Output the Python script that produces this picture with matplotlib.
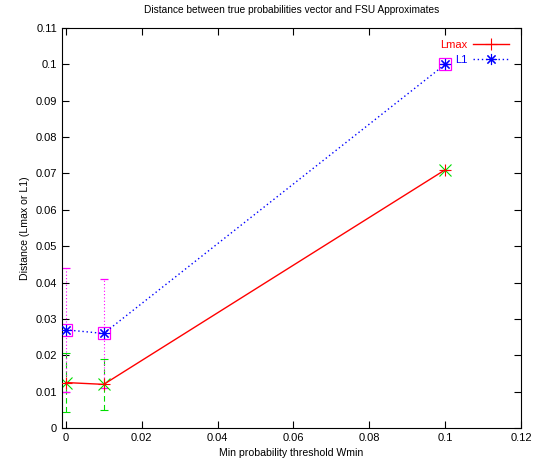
import matplotlib
matplotlib.use('Agg')
import matplotlib.pyplot as plt

plt.rcParams['font.family'] = ['Liberation Sans', 'DejaVu Sans']

# Datos
wmin = [0.0, 0.01, 0.1]
lmax = [0.0125, 0.012, 0.071]
l1 = [0.027, 0.026, 0.1]
lmax_err = [0.008, 0.007, 0.0]
l1_err = [0.017, 0.015, 0.0]

x_ticks = [0, 0.02, 0.04, 0.06, 0.08, 0.1, 0.12]
x_tick_labels = ['0', '0.02', '0.04', '0.06', '0.08', '0.1', '0.12']
y_ticks = [0, 0.01, 0.02, 0.03, 0.04, 0.05, 0.06, 0.07, 0.08, 0.09, 0.1, 0.11]
y_tick_labels = ['0', '0.01', '0.02', '0.03', '0.04', '0.05', '0.06', '0.07', '0.08', '0.09', '0.1', '0.11']

fig = plt.figure(figsize=(5.33, 4.71), dpi=100)
ax = fig.add_axes([62 / 533, 1 - 428 / 471, (521 - 62) / 533, (428 - 28) / 471])

# Barras de error (estilo gnuplot)
eb1 = ax.errorbar(wmin, lmax, yerr=lmax_err, fmt='x', color='#00dd00', ecolor='#00dd00',
                  mew=0.8, elinewidth=0.8, capsize=3, capthick=0.8, markersize=8, zorder=2)
eb1[2][0].set_linestyle((0, (5, 3)))
eb2 = ax.errorbar(wmin, l1, yerr=l1_err, fmt='s', color='#ff00ff', ecolor='#ff00ff',
                  mfc='none', mew=0.9, elinewidth=0.8, capsize=3, capthick=0.8,
                  markersize=8, zorder=2)
eb2[2][0].set_linestyle((0, (1, 2)))

# Curvas principales
ax.plot(wmin, lmax, color='red', lw=1.0, marker='+', markersize=8, mew=0.8,
        label='Lmax', zorder=3)
ax.plot(wmin, l1, color='blue', lw=1.0, ls=(0, (1, 2)), marker=(8, 2, 0), markersize=8,
        mew=0.8, label='L1', zorder=3)

ax.set_xlim(-0.001, 0.12)
ax.set_ylim(0, 0.11)
ax.set_xticks(x_ticks)
ax.set_xticklabels(x_tick_labels)
ax.set_yticks(y_ticks)
ax.set_yticklabels(y_tick_labels)
ax.tick_params(direction='in', top=True, right=True, labelsize=8, length=5)

ax.set_title('Distance between true probabilities vector and FSU Approximates',
             fontsize=7.3, pad=11)
ax.set_xlabel('Min probability threshold Wmin', fontsize=7.6)
ax.set_ylabel('Distance (Lmax or L1)', fontsize=7.6)

ax.legend(loc='upper right', frameon=False, markerfirst=False, fontsize=8,
          labelcolor='linecolor', handlelength=3.2, borderaxespad=0.7, handletextpad=0.5,
          labelspacing=0.45)

fig.savefig('out.png', dpi=100)
